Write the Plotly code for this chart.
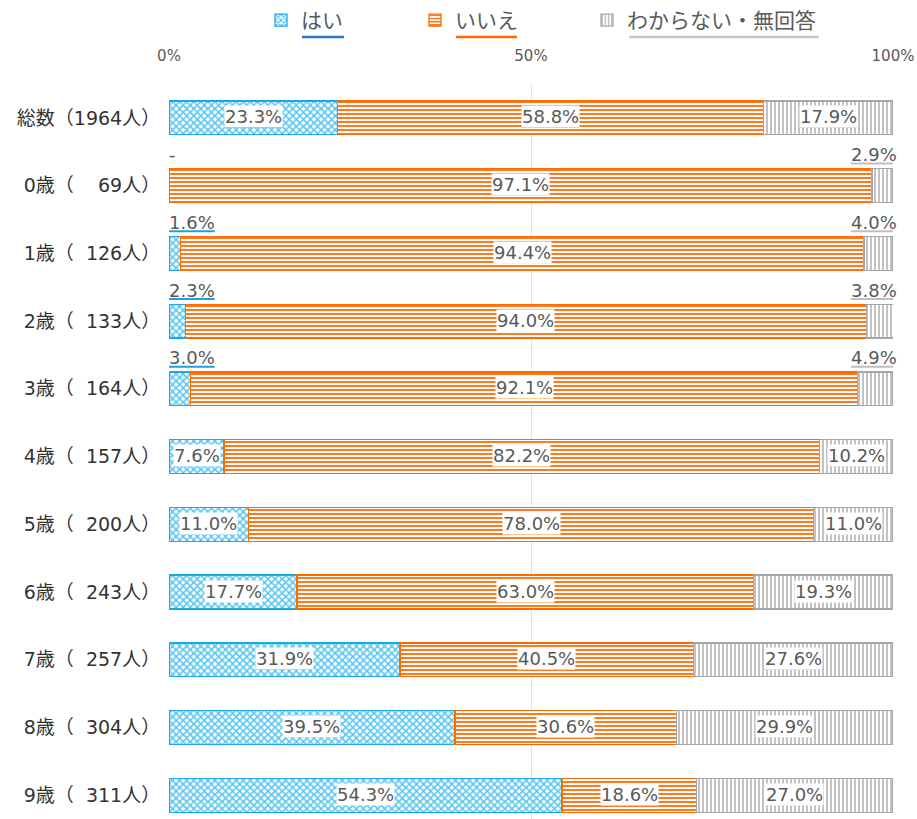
import plotly.graph_objects as go

# ---------------- data ----------------
row_labels = [
    "総数（1964人）",
    "0歳（\u2007\u200769人）",
    "1歳（\u2007126人）",
    "2歳（\u2007133人）",
    "3歳（\u2007164人）",
    "4歳（\u2007157人）",
    "5歳（\u2007200人）",
    "6歳（\u2007243人）",
    "7歳（\u2007257人）",
    "8歳（\u2007304人）",
    "9歳（\u2007311人）",
]
yes_vals = [23.3, 0.0, 1.6, 2.3, 3.0, 7.6, 11.0, 17.7, 31.9, 39.5, 54.3]
no_vals = [58.8, 97.1, 94.4, 94.0, 92.1, 82.2, 78.0, 63.0, 40.5, 30.6, 18.6]
unk_vals = [17.9, 2.9, 4.0, 3.8, 4.9, 10.2, 11.0, 19.3, 27.6, 29.9, 27.0]
series_names = ["はい", "いいえ", "わからない・無回答"]
x_tick_vals = [0, 50, 100]
x_tick_text = ["0%", "50%", "100%"]

# ---------------- style ----------------
W, H = 917, 819
ML, MR, MT, MB = 169, 24, 84, 0
PLOT_W = W - ML - MR
PLOT_H = H - MT - MB
Y_RANGE = [10.35, -0.5]
PX_X = PLOT_W / 100.0
PX_Y = PLOT_H / (Y_RANGE[0] - Y_RANGE[1])

FONT = "DejaVu Sans, Noto Sans CJK JP, sans-serif"
LABEL_SIZE = 18
TEXT_COL = "#595959"

styles = [
    dict(shape="x", fg="#55C5F3", bg="#FFFFFF", size=5, sol=0.5, line="#1EA7E6", ul="#1E9FE0"),
    dict(shape="-", fg="#FF7A1F", bg="#FFFFFF", size=4, sol=0.5, line="#FF6A00", ul="#F7A11E"),
    dict(shape="|", fg="#BDBDBD", bg="#FFFFFF", size=4, sol=0.45, line="#A6A6A6", ul="#BFBFBF"),
]
legend_ul = ["#2878C8", "#FF6600", "#C8C8C8"]
legend_widths = [109, 127, 200]

CW = {"0": 0.636, "1": 0.636, "2": 0.636, "3": 0.636, "4": 0.636, "5": 0.636,
      "6": 0.636, "7": 0.636, "8": 0.636, "9": 0.636, ".": 0.318, "%": 0.950, "-": 0.361}


def text_w(s):
    return sum(CW.get(c, 0.6) for c in s) * LABEL_SIZE


fig = go.Figure()
all_vals = [yes_vals, no_vals, unk_vals]
for k, (name, vals) in enumerate(zip(series_names, all_vals)):
    st = styles[k]
    fig.add_trace(go.Bar(
        name=name, y=list(range(len(row_labels))), x=vals, orientation="h",
        marker=dict(
            color=st["bg"],
            line=dict(color=st["line"], width=1.3),
            pattern=dict(shape=st["shape"], fgcolor=st["fg"], bgcolor=st["bg"],
                         size=st["size"], solidity=st["sol"], fillmode="replace"),
        ),
        legendwidth=legend_widths[k],
        hoverinfo="skip",
    ))

annotations = []
shapes = []
for i in range(len(row_labels)):
    start = 0.0
    for k in range(3):
        v = all_vals[k][i]
        txt = "-" if v == 0 else f"{v:.1f}%"
        tw = text_w(txt)
        seg_px = v * PX_X
        cx = start + v / 2.0
        inside = seg_px >= tw + 4
        if not inside:
            half = tw / 2.0 / PX_X
            if cx - half < 0:
                cx = half
            if cx + half > 100.5:
                cx = 100.5 - half
            ty = i - 0.458
            uy = i - 0.325
        else:
            ty = i - 0.015
            uy = i + 0.133
        annotations.append(dict(
            x=cx, y=ty, xref="x", yref="y", text=txt, showarrow=False,
            font=dict(family=FONT, size=LABEL_SIZE, color=TEXT_COL),
            bgcolor="#FFFFFF" if inside else "rgba(0,0,0,0)",
            borderpad=0, xanchor="center", yanchor="middle",
        ))
        if v != 0:
            shapes.append(dict(
                type="line", xref="x", yref="y",
                x0=cx - tw / 2.0 / PX_X, x1=cx + tw / 2.0 / PX_X, y0=uy, y1=uy,
                line=dict(color=styles[k]["ul"], width=2), layer="above",
            ))
        start += v

# legend underlines (paper coords)
leg_text_px = [(302, 344), (456, 517), (629, 819)]
for k, (a, b) in enumerate(leg_text_px):
    shapes.append(dict(
        type="line", xref="paper", yref="paper",
        x0=(a - ML) / PLOT_W, x1=(b - ML) / PLOT_W,
        y0=(H - 37 - MB) / PLOT_H, y1=(H - 37 - MB) / PLOT_H,
        line=dict(color=legend_ul[k], width=2.5),
    ))

fig.update_layout(
    width=W, height=H,
    margin=dict(l=ML, r=MR, t=MT, b=MB, autoexpand=False),
    paper_bgcolor="white", plot_bgcolor="white",
    barmode="stack", bargap=0.5,
    font=dict(family=FONT, color=TEXT_COL),
    showlegend=True,
    legend=dict(
        orientation="h", xref="container", yref="container",
        x=261 / W, y=1.0, xanchor="left", yanchor="top",
        font=dict(family="Noto Sans CJK JP, sans-serif", size=21, color=TEXT_COL),
        itemwidth=30, entrywidthmode="pixels", traceorder="normal",
        bgcolor="rgba(0,0,0,0)",
    ),
    xaxis=dict(
        range=[0, 100], side="top", tickvals=x_tick_vals, ticktext=x_tick_text,
        showgrid=True, gridcolor="#E3E3E3", gridwidth=1, zeroline=False,
        ticks="outside", ticklen=16, tickcolor="rgba(0,0,0,0)", automargin=False,
        tickfont=dict(family=FONT, size=15, color=TEXT_COL), fixedrange=True,
    ),
    yaxis=dict(
        range=Y_RANGE, tickmode="array", tickvals=list(range(len(row_labels))),
        ticktext=row_labels, showgrid=False, zeroline=False, automargin=False,
        ticks="outside", ticklen=4, tickcolor="rgba(0,0,0,0)",
        tickfont=dict(family=FONT, size=19, color="#333333"), fixedrange=True,
    ),
    annotations=annotations,
    shapes=shapes,
)

fig.write_html(
    "out.html",
    config={"displayModeBar": False},
    post_script="document.body.style.margin='0';document.body.style.padding='0';",
)
